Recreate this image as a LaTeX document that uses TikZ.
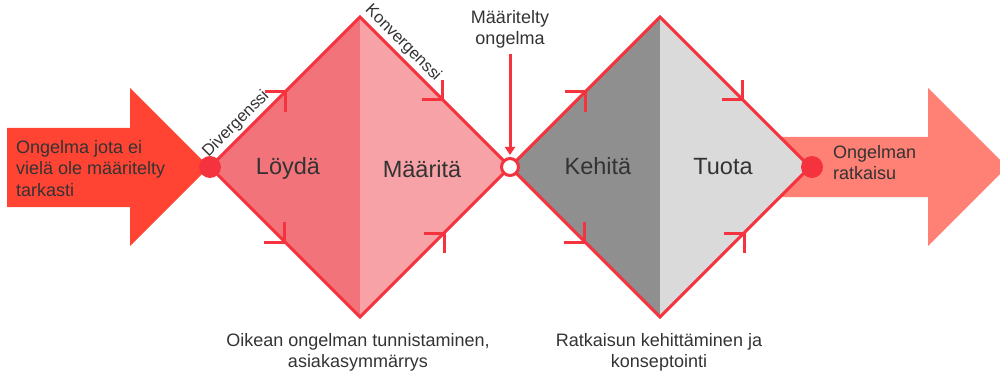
\documentclass[tikz,border=0pt]{standalone}
\usepackage{fontspec}
\setmainfont{Liberation Sans}
\usetikzlibrary{arrows.meta}

\definecolor{startred}{HTML}{FF4433}
\definecolor{edgered}{HTML}{F5333F}
\definecolor{findfill}{HTML}{F3737A}
\definecolor{definefill}{HTML}{F7A2A6}
\definecolor{developfill}{HTML}{8F8F8F}
\definecolor{deliverfill}{HTML}{DADADA}
\definecolor{endsalmon}{HTML}{FF8074}
\definecolor{textgray}{HTML}{333333}

\begin{document}
\begin{tikzpicture}[
        x=1pt, y=-1pt,
        every node/.style={text=textgray},
        caption/.style={font=\fontsize{18}{21.5}\selectfont, inner sep=0pt},
        phase/.style={font=\fontsize{23.5}{28}\selectfont, inner sep=0pt, anchor=base},
        edgelabel/.style={font=\fontsize{16.5}{19}\selectfont, inner sep=0pt, sloped, above=4pt},
        outline/.style={draw=edgered, line width=3pt, line join=miter},
        flowmark/.style={draw=edgered, line width=3pt, line join=miter},
        dot/.style={circle, fill=edgered, minimum size=22pt, inner sep=0pt},
        hole/.style={circle, draw=edgered, fill=white, line width=3pt, minimum size=17pt, inner sep=0pt},
        pointer/.style={draw=edgered, line width=3pt, -{Triangle[length=8pt,width=10pt]}}
    ]
    \useasboundingbox (0,0) rectangle (1000,374);
    \clip (0,0) rectangle (1000,374);

    % problem in, solution out
    \fill[startred] (7,128) -- (130,128) -- (130,88) -- (209,167) -- (130,246) -- (130,207) -- (7,207) -- cycle;
    \fill[endsalmon] (770,137) -- (928,137) -- (928,88) -- (1007,167) -- (928,246) -- (928,197) -- (770,197) -- cycle;

    % the two diamonds
    \foreach \cx/\lcol/\rcol/\dname in {360/findfill/definefill/d1, 660/developfill/deliverfill/d2} {
        \coordinate (\dname-w) at (\cx-150,167);
        \coordinate (\dname-n) at (\cx,17);
        \coordinate (\dname-e) at (\cx+150,167);
        \coordinate (\dname-s) at (\cx,317);
        \fill[\lcol] (\dname-w) -- (\dname-n) -- (\dname-s) -- cycle;
        \fill[\rcol] (\dname-n) -- (\dname-e) -- (\dname-s) -- cycle;
        \draw[outline] (\dname-w) -- (\dname-n) -- (\dname-e) -- (\dname-s) -- cycle;
        \draw[flowmark] (\cx-95,92) -- (\cx-75,92) -- (\cx-75,112);
        \draw[flowmark] (\cx+62,100) -- (\cx+82,100) -- (\cx+82,80);
        \draw[flowmark] (\cx-96,242) -- (\cx-76,242) -- (\cx-76,222);
        \draw[flowmark] (\cx+64,233) -- (\cx+84,233) -- (\cx+84,253);
    }

    \path (d1-w) -- (d1-n) node[edgelabel, pos=0.23] (diverge) {Divergenssi};
    \path (d1-n) -- (d1-e) node[edgelabel, pos=0.23] (converge) {Konvergenssi};

    \node[dot] (start) at (d1-w) {};
    \node[hole] (defined) at (d1-e) {};
    \node[dot] (solution) at ([xshift=2pt]d2-e) {};

    \node[caption, anchor=north west, align=left] (problem) at (16,140) {Ongelma jota ei\\vielä ole määritelty\\tarkasti};
    \node[phase] (find) at (288,175) {Löydä};
    \node[phase] (define) at (422,178) {Määritä};
    \node[phase] (develop) at (598,175) {Kehitä};
    \node[phase] (deliver) at (723,175) {Tuota};

    \node[caption, anchor=north, align=center] (defined label) at (510,10) {Määritelty\\ongelma};
    \draw[pointer, shorten <=5pt, shorten >=2pt] (defined label) -- (defined);

    \node[caption, anchor=north west, align=left] (solution label) at (833,145) {Ongelman\\ratkaisu};

    \node[caption, anchor=north, align=center] (find caption) at (358,333) {Oikean ongelman tunnistaminen,\\asiakasymmärrys};
    \node[caption, anchor=north, align=center] (develop caption) at (659,333) {Ratkaisun kehittäminen ja\\konseptointi};
\end{tikzpicture}
\end{document}
